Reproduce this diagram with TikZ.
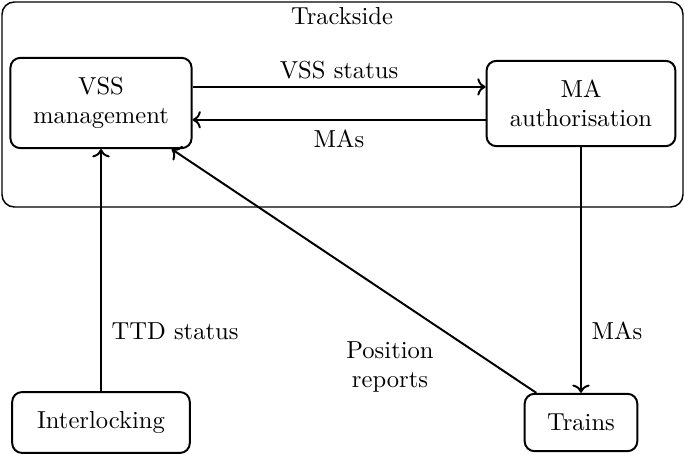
\documentclass[tikz,border=0pt]{standalone}
\usepackage{tikz}
\usetikzlibrary{calc,positioning,arrows.meta}

\begin{document}
\begin{tikzpicture}[
  x=0.01429cm,y=-0.01429cm,
  sys_box/.style={rectangle,rounded corners=4pt,thick,draw=black,align=center,inner sep=0pt},
  flow/.style={->,thick},
  flow_label/.style={align=center,inner sep=1pt}
  ]
  \useasboundingbox (0,0) rectangle (685,455);

%trackside
  \draw[semithick,rounded corners=5pt] (2,2) rectangle (683,207);
  \node (trackside_lbl) at(342,16) {Trackside};

  \node (vss_mgmt) [sys_box,minimum width=2.59cm,minimum height=1.29cm] at(101,103) {VSS\\management};
  \node (ma_auth) [sys_box,minimum width=2.70cm,minimum height=1.22cm] at(581,103.5) {MA\\authorisation};

%outside
  \node (interlocking) [sys_box,minimum width=2.54cm,minimum height=0.87cm] at(101,422.5) {Interlocking};
  \node (trains) [sys_box,minimum width=1.61cm,minimum height=0.82cm] at(581,422.5) {Trains};

%flows
  \draw[flow] ([yshift=.23cm]vss_mgmt.east) -- ([yshift=.23cm]vss_mgmt.east -| ma_auth.west);
  \draw[flow] ([yshift=-.24cm]vss_mgmt.east -| ma_auth.west) -- ([yshift=-.24cm]vss_mgmt.east);
  \draw[flow] (interlocking.north) -- (vss_mgmt.south);
  \draw[flow] ([xshift=.18cm]trains.north west) -- ([xshift=1.01cm]vss_mgmt.south);
  \draw[flow] (ma_auth.south) -- (trains.north);

  \node (vss_status_lbl) [flow_label] at(339,70) {VSS status};
  \node (mas_lbl_a) [flow_label] at(339,139) {MAs};
  \node (ttd_lbl) [flow_label] at(175,331) {TTD status};
  \node (pos_lbl) [flow_label] at(390,367) {Position\\reports};
  \node (mas_lbl_b) [flow_label] at(617,331) {MAs};

\end{tikzpicture}
\end{document}
